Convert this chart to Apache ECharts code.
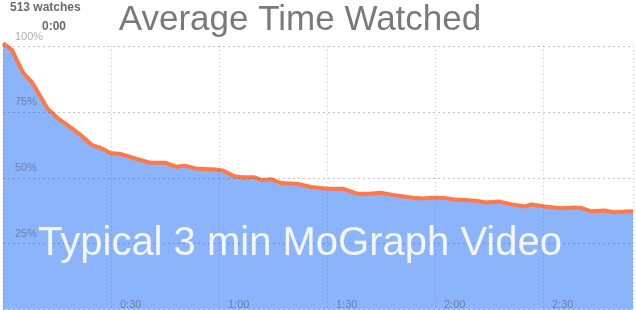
<!DOCTYPE html>
<html>
<head>
<meta charset="utf-8">
<script src="https://cdn.jsdelivr.net/npm/echarts@6/dist/echarts.min.js"></script>
<style>
html,body{margin:0;padding:0;background:#fff;}
#chart{width:636px;height:310px;}
</style>
</head>
<body>
<div id="chart"></div>
<script>
// Elapsed seconds of the video
var seconds = [0, 2.5, 5.5, 8, 9.6, 12.3, 15.1, 18.9, 21.7, 24.7, 27.2, 29.9, 32.6, 37, 40.9, 45, 48, 50.5, 53.5, 59, 60.9, 64.2, 66.4, 69.7, 71.9, 74.6, 77.3, 82, 85.6, 90.2, 94.6, 98.5, 102, 104.8, 108.3, 113.8, 116.6, 119.3, 122.1, 125.9, 131.4, 134.1, 137.7, 141.3, 145.1, 146.7, 150.6, 155, 158.8, 161, 163.2, 167, 169.8, 174.2, 175];
// Share of viewers still watching (%)
var retention = [101, 98.5, 90, 86.3, 82.7, 76.4, 72.7, 69, 66.1, 62.4, 61.3, 59.4, 59, 57.2, 55.7, 55.7, 54.2, 54.6, 53.5, 53.1, 52.8, 50.6, 50.2, 50.2, 49.1, 49.4, 48, 47.6, 46.5, 45.8, 45.8, 43.9, 43.9, 44.3, 43.5, 42.4, 42.1, 42.4, 42.4, 41.7, 41.3, 40.6, 41, 39.9, 39.1, 39.9, 39.1, 38.4, 38.7, 38.4, 37.3, 37.6, 36.9, 37.3, 37.2];
var xTickValues = [30, 60, 90, 120, 150];
var xTickLabels = ['0:30', '1:00', '1:30', '2:00', '2:30'];
var yTickValues = [25, 50, 75, 100];
var yTickLabels = ['25%', '50%', '75%', '100%'];
var titleText = 'Average Time Watched';
var watchesText = '513 watches';
var startText = '0:00';
var overlayText = 'Typical 3 min MoGraph Video';

var FONT = '"Liberation Sans", Arial, Helvetica, sans-serif';
var data = seconds.map(function (s, i) { return [s, retention[i]]; });

var chart = echarts.init(document.getElementById('chart'), null, {renderer: 'canvas'});
chart.setOption({
  animation: false,
  backgroundColor: '#ffffff',
  grid: {left: -2, right: 0, top: 46, bottom: -7, containLabel: false},
  xAxis: {
    type: 'value', min: 0, max: 175, interval: 30, z: 5,
    axisLine: {show: false}, axisTick: {show: false},
    splitLine: {show: true, lineStyle: {color: 'rgba(40,40,60,0.28)', width: 1, type: [1, 3]}},
    axisLabel: {
      inside: true, margin: 5, align: 'left', verticalAlign: 'middle',
      padding: [0, 0, 0, 9],
      color: 'rgba(50,50,60,0.4)', fontFamily: FONT, fontSize: 11,
      formatter: function (v) {
        var k = xTickValues.indexOf(v);
        return k >= 0 ? xTickLabels[k] : '';
      }
    }
  },
  yAxis: {
    type: 'value', min: 0, max: 100, interval: 25, z: 5,
    axisLine: {show: false}, axisTick: {show: false},
    splitLine: {show: true, lineStyle: {color: 'rgba(40,40,60,0.28)', width: 1, type: [2, 3]}},
    axisLabel: {
      inside: true, margin: 12, align: 'left', verticalAlign: 'bottom',
      padding: [0, 0, 4, 0],
      color: 'rgba(50,50,60,0.4)', fontFamily: FONT, fontSize: 11,
      formatter: function (v) {
        var k = yTickValues.indexOf(v);
        return k >= 0 ? yTickLabels[k] : '';
      }
    }
  },
  series: [{
    type: 'line', data: data, showSymbol: false, clip: false, z: 2,
    lineStyle: {color: '#ff7845', width: 4},
    areaStyle: {color: '#8cb4fa', opacity: 1}
  }],
  graphic: [
    {type: 'text', z: 100, left: 10, top: 2,
     style: {text: watchesText, fontFamily: FONT, fontWeight: 'bold', fontSize: 12, fill: '#6a6a6a'}},
    {type: 'text', z: 100, left: 42, top: 21,
     style: {text: startText, fontFamily: FONT, fontWeight: 'bold', fontSize: 12, fill: '#6a6a6a'}},
    {type: 'text', z: 100, x: 300, y: 20,
     style: {text: titleText, fontFamily: FONT, fontSize: 35, fill: '#7a7a7a', align: 'center', verticalAlign: 'middle'}},
    {type: 'text', z: 100, x: 300, y: 244,
     style: {text: overlayText, fontFamily: FONT, fontSize: 40, fill: '#f4f7ff', align: 'center', verticalAlign: 'middle'}}
  ]
});
</script>
</body>
</html>
